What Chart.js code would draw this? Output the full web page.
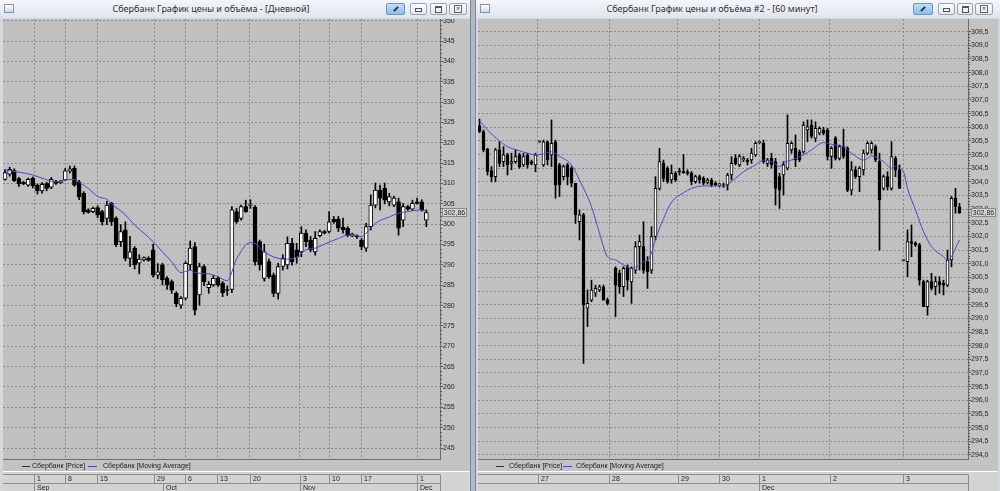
<!DOCTYPE html>
<html>
<head>
<meta charset="utf-8">
<title>Сбербанк</title>
<script src="https://cdn.jsdelivr.net/npm/chart.js@4.4.1/dist/chart.umd.min.js"></script>
<style>
html,body{margin:0;padding:0;}
body{width:1000px;height:491px;overflow:hidden;position:relative;background:#aeb9c7;font-family:"Noto Sans","DejaVu Sans",sans-serif;}
.win{position:absolute;top:0;height:491px;background:#d3d8de;box-sizing:border-box;}
.tb{position:absolute;left:0;top:0;right:0;height:18px;background:linear-gradient(#f3f6fa,#dfe5ed);}
.ttl{position:absolute;top:0;left:0;height:18px;line-height:18px;font-size:9px;color:#303030;text-align:center;white-space:nowrap;}
.ico{position:absolute;left:4px;top:4px;width:8px;height:7px;border:1px solid #7f93ad;background:linear-gradient(#fff,#c9d9ee);}
.btn{position:absolute;top:3px;height:10px;border:1px solid #98a3b3;border-radius:2px;background:linear-gradient(#fdfdfe,#e2e7ee);}
.btn.pin{background:linear-gradient(#c4ddf8,#8fbbea);border-color:#6b93c4;}
.g{position:absolute;}
canvas{position:absolute;}
</style>
</head>
<body>
<div class="win" id="wl" style="left:0;width:471px;border-right:1px solid #7d8794;">
  <div class="tb">
    <div class="ico"></div>
    <div class="ttl" style="width:422px;">Сбербанк График цены и объёма - [Дневной]</div>
    <div class="btn pin" style="left:386px;width:17px;"><div class="g" style="left:6px;top:4px;width:6px;height:2px;background:#203050;transform:rotate(-45deg);"></div></div>
    <div class="btn" style="left:410px;width:15px;"><div class="g" style="left:4px;top:4px;width:5px;height:2px;border:1px solid #555;"></div></div>
    <div class="btn" style="left:430px;width:15px;"><div class="g" style="left:4px;top:2px;width:5px;height:4px;border:1px solid #555;border-top-width:2px;"></div></div>
    <div class="btn" style="left:449px;width:16px;"><div class="g" style="left:4px;top:1px;width:6px;height:6px;border:1px solid #666;font-size:7px;line-height:6px;text-align:center;color:#444;">×</div></div>
  </div>
  <canvas id="cl" width="467" height="472" style="left:3px;top:19px;"></canvas>
</div>
<div class="win" id="wr" style="left:475px;width:525px;border-left:1px solid #7d8794;">
  <div class="tb">
    <div class="ico"></div>
    <div class="ttl" style="width:472px;">Сбербанк График цены и объёма #2 - [60 минут]</div>
    <div class="btn pin" style="left:437px;width:18px;"><div class="g" style="left:6px;top:4px;width:6px;height:2px;background:#203050;transform:rotate(-45deg);"></div></div>
    <div class="btn" style="left:462px;width:15px;"><div class="g" style="left:4px;top:4px;width:5px;height:2px;border:1px solid #555;"></div></div>
    <div class="btn" style="left:481px;width:14px;"><div class="g" style="left:4px;top:2px;width:5px;height:4px;border:1px solid #555;border-top-width:2px;"></div></div>
    <div class="btn" style="left:499px;width:16px;"><div class="g" style="left:4px;top:1px;width:6px;height:6px;border:1px solid #666;font-size:7px;line-height:6px;text-align:center;color:#444;">×</div></div>
  </div>
  <canvas id="cr" width="520" height="472" style="left:2px;top:19px;"></canvas>
</div>
<script>
// ===== Left panel: daily candles (Aug 25 – Dec 3) =====
const leftOpen = [311.0,312.3,313.2,311.2,310.3,309.6,311.3,309.6,308.2,310.0,
309.1,310.5,310.2,310.9,313.0,313.7,310.4,307.6,303.5,303.1,
304.1,303.1,301.4,305.1,301.5,295.7,298.6,291.6,294.1,290.4,
291.2,291.7,293.7,287.5,290.0,286.7,285.9,283.0,280.1,281.8,
290.0,294.5,282.6,289.6,284.4,285.1,286.7,285.5,283.9,284.0,
303.1,301.4,304.3,304.6,304.2,295.7,286.7,290.8,287.5,283.0,
289.6,290.0,295.3,293.7,293.2,297.8,296.1,293.2,297.2,298.2,
298.2,301.2,301.2,299.2,299.0,297.1,297.1,296.1,294.1,299.4,
304.7,308.4,308.8,305.5,304.7,305.5,301.0,304.3,303.7,305.5,
305.5,301.0];
const leftHigh = [313.4,314.0,313.6,311.5,310.5,311.3,311.6,309.9,310.2,310.3,
311.5,310.8,310.8,313.7,314.3,314.3,310.8,308.0,303.8,304.2,
304.5,303.4,305.6,305.4,301.8,299.9,300.6,297.0,294.5,292.5,
292.0,292.0,295.1,290.3,290.4,287.1,286.3,283.4,282.2,290.8,
295.9,295.5,290.4,290.0,285.9,287.4,287.1,285.9,284.8,304.3,
303.9,304.7,305.9,306.0,304.6,296.1,295.1,291.4,288.0,290.4,
292.5,296.9,296.5,295.3,299.4,298.6,297.0,298.2,298.6,298.5,
303.1,301.9,301.9,301.5,299.4,297.8,297.4,296.5,300.2,307.2,
310.1,309.6,310.1,307.6,306.9,306.4,305.1,304.6,305.9,306.4,
306.0,303.5];
const leftLow = [310.8,311.8,310.5,309.3,309.7,309.3,308.9,307.4,307.6,308.2,
308.7,309.8,310.0,310.7,312.6,309.3,306.0,302.5,302.7,302.8,
301.6,299.8,299.9,299.7,294.5,294.5,291.0,289.6,289.0,287.8,
290.9,290.9,287.0,286.6,285.1,284.0,283.0,279.7,279.3,281.4,
288.8,277.7,280.1,284.9,283.0,284.7,284.7,282.2,282.5,283.2,
300.2,301.0,302.9,303.9,289.9,288.7,286.0,286.7,282.2,281.6,
288.7,289.0,289.9,290.4,292.0,294.5,293.2,292.4,296.9,297.6,
297.8,300.2,298.2,297.8,296.9,296.9,296.5,293.7,293.3,298.6,
304.0,303.5,305.0,304.5,304.3,297.3,299.4,303.4,303.4,304.9,
303.2,299.4];
const leftClose = [312.7,313.5,310.7,309.9,309.9,311.0,309.4,308.2,309.8,308.8,
311.0,310.0,310.6,313.1,313.6,309.6,306.7,303.1,302.9,303.9,
302.3,300.6,304.7,300.6,294.9,298.2,291.6,293.2,290.0,291.4,
291.8,291.1,287.5,288.3,286.3,285.1,283.8,280.4,281.8,290.4,
294.1,278.9,289.6,285.9,285.2,286.7,285.1,283.2,283.7,303.5,
300.6,304.3,303.1,304.8,290.8,290.0,293.2,287.1,283.0,289.6,
291.6,295.3,290.8,291.9,297.8,295.7,293.7,296.5,298.2,297.8,
300.6,300.6,299.0,298.6,297.3,297.6,296.9,294.5,299.4,304.7,
308.4,306.4,305.9,306.8,306.4,299.0,304.3,303.7,305.1,305.1,
303.5,302.86];
// moving average, read at sampled candles
const leftMAIdx = [0,6,9,11,13,15,16,18,20,22,23,26,28,30,32,34,36,38,40,41,44,46,48,50,53,54,56,59,61,63,65,67,69,72,74,76,77,78,80,83,85,87,90,91];
const leftMAVal = [313.3,312.1,310.9,310.4,310.9,311.0,310.3,308.8,306.8,306.1,305.0,302.3,299.8,297.8,295.7,293.2,290.8,288.1,288.7,288.1,287.8,287.1,286.1,291.4,295.5,295.3,293.2,291.6,291.4,291.9,293.7,294.1,295.1,296.5,297.3,297.2,296.9,297.8,300.2,301.8,302.7,303.1,303.5,303.1];
const leftDayPos = [6.3,13.0,19.9,32.2,38.9,45.8,52.9,63.7,70.0,76.9,89.0];
const leftDayLabels = ['1','8','15','29','6','13','20','3','10','17','1'];
const leftMonthPos = [6.3,34.2,63.7,89.0];
const leftMonthLabels = ['Sep','Oct','Nov','Dec'];
const leftYTicks = [245,250,255,260,265,270,275,280,285,290,295,300,305,310,315,320,325,330,335,340,345,350];

// ===== Right panel: 60-minute candles (Nov 26 – Dec 3) =====
const rightOpen = [306.05,305.84,305.2,304.41,304.19,305.17,304.74,304.99,304.68,304.74,
304.99,304.62,304.99,304.74,304.62,305.47,304.62,305.47,304.99,305.47,
304.62,304.19,304.62,304.5,303.95,302.54,302.79,299.37,299.67,299.92,
300.04,300.16,299.67,null,300.83,300.65,300.16,300.89,300.34,300.77,
301.63,301.63,301.08,300.77,302.0,303.76,304.68,304.5,304.07,304.31,
304.38,304.38,304.37,304.31,304.01,304.19,304.13,303.98,304.07,303.95,
303.89,303.89,303.89,304.25,304.86,304.62,304.8,304.8,304.8,304.99,
305.44,305.41,304.68,304.86,304.74,304.19,304.25,304.5,305.17,305.23,
305.1,305.1,305.9,306.08,305.6,305.78,305.9,305.9,304.93,305.6,
304.86,305.29,305.23,303.7,304.44,304.19,304.44,305.05,305.17,305.29,
304.74,303.76,304.19,303.76,304.86,304.44,301.12,301.08,301.81,301.75,
301.69,300.35,299.43,300.35,300.16,300.35,300.28,300.22,301.14,303.4,
303.09];
const rightHigh = [306.3,305.9,305.23,304.56,305.23,305.47,305.29,305.05,305.05,305.17,
305.05,305.05,305.05,304.8,305.05,305.5,305.53,305.5,306.27,305.53,
304.68,304.62,304.68,304.56,303.95,302.97,302.85,300.04,300.4,300.22,
300.22,300.22,299.74,null,300.89,300.77,300.89,300.96,300.89,301.81,
302.05,302.54,301.26,302.36,304.19,305.23,304.8,304.56,304.62,304.37,
304.5,305.0,304.44,304.38,304.25,304.25,304.19,304.13,304.13,304.01,
303.95,303.95,304.31,304.92,305.0,305.0,304.93,304.86,305.23,305.47,
305.5,305.53,304.86,305.05,304.86,304.31,304.74,306.45,305.47,305.72,
305.17,306.2,306.27,306.27,306.2,306.02,306.0,305.96,305.29,305.66,
305.35,305.93,305.29,304.74,304.56,304.56,305.17,305.47,305.47,305.35,
305.05,304.25,304.37,305.47,304.93,304.62,301.14,302.24,302.42,301.81,
301.75,300.4,300.4,300.65,300.53,300.53,300.4,301.5,303.46,303.76,
303.21];
const rightLow = [305.8,305.1,304.25,304.0,304.0,304.56,304.56,304.25,304.44,304.68,
304.5,304.56,304.5,304.62,304.37,305.44,304.56,304.62,304.56,303.4,
303.46,304.07,303.89,303.82,302.48,301.87,297.35,298.7,299.61,299.8,
299.98,299.67,299.49,null,299.06,299.92,299.8,300.04,299.55,300.65,
300.77,300.65,300.1,300.65,301.87,303.7,304.01,303.95,303.95,304.01,
304.25,304.31,304.25,303.89,303.95,303.95,303.89,303.92,303.82,303.85,
303.82,303.8,303.7,304.07,304.62,304.56,304.74,304.62,304.68,304.93,
305.4,304.68,304.56,304.5,303.15,303.03,303.52,304.44,305.05,304.56,
304.74,305.05,305.47,305.6,305.47,305.72,305.72,304.8,304.5,304.8,
304.8,304.86,303.64,303.52,304.13,303.64,304.25,304.99,305.05,304.74,
301.5,303.7,303.7,303.7,304.19,303.76,301.1,300.53,301.26,301.63,
300.22,299.43,299.12,300.04,299.86,299.92,299.86,300.16,300.89,302.85,
302.85];
const rightClose = [305.85,305.17,304.38,304.19,305.17,304.68,304.99,304.62,304.74,304.93,
304.56,304.93,304.62,304.68,304.99,305.47,305.47,304.8,305.41,303.89,
303.89,304.56,304.19,303.95,302.79,302.79,299.49,299.55,300.04,300.1,
300.16,299.67,299.55,null,300.22,300.16,300.83,300.4,300.83,301.63,
301.81,300.77,300.71,302.0,303.76,304.74,304.13,304.01,304.31,304.07,
304.37,304.34,304.31,304.01,304.19,304.07,303.95,304.07,303.89,303.89,
303.89,303.85,304.25,304.68,304.68,304.93,304.86,304.74,305.05,305.41,
305.44,304.74,304.8,304.62,303.76,303.7,304.62,305.41,305.41,304.8,
304.8,306.08,306.02,305.66,305.96,305.96,305.78,304.93,305.23,304.86,
305.29,304.93,303.7,304.44,304.19,304.5,305.05,305.41,305.41,304.8,
303.34,304.19,303.82,304.93,304.44,303.76,301.12,301.81,301.75,301.69,
300.4,299.43,300.35,300.1,300.35,300.22,300.22,301.14,303.4,303.09,
302.86];
const rightMAIdx = [0,2,5,7,10,12,14,16,18,20,21,23,25,28,30,32,34,36,38,40,41,42,43,44,46,48,51,53,56,58,61,62,64,66,69,71,73,75,76,78,81,83,86,87,89,91,93,96,97,98,101,103,104,106,107,109,111,113,116,117,118,119,120];
const rightMAVal = [306.24,305.9,305.5,305.29,305.14,305.05,304.99,305.02,305.1,304.93,304.86,304.62,304.07,303.09,302.12,301.26,301.14,300.96,300.83,300.96,301.08,301.12,301.4,301.9,302.65,303.25,303.6,303.76,303.85,303.85,303.87,303.9,304.13,304.37,304.62,304.8,304.74,304.56,304.7,304.8,304.99,305.17,305.44,305.41,305.35,305.29,305.05,304.8,304.86,304.95,304.74,304.5,304.56,304.37,303.76,302.97,302.18,301.63,301.26,301.14,301.26,301.57,301.87];
const rightDayPos = [14.55,32.4,49.6,59.9,69.9,87.6,105.9];
const rightDayLabels = ['27','28','29','30','1','2','3'];
const rightMonthPos = [69.9];
const rightMonthLabels = ['Dec'];
const rightYTicks = [294.0,294.5,295.0,295.5,296.0,296.5,297.0,297.5,298.0,298.5,299.0,299.5,300.0,300.5,301.0,301.5,302.0,302.5,303.0,303.5,304.0,304.5,305.0,305.5,306.0,306.5,307.0,307.5,308.0,308.5,309.0,309.5];

const legendTexts = ['Сбербанк [Price]', 'Сбербанк [Moving Average]'];
const LBL_FONT = '7px "Liberation Sans", Arial, sans-serif';
const MA_COLOR = '#4848c8';
const GRID_COLOR = '#8a8a8a';

const decoPlugin = {
  id: 'deco',
  beforeDraw(chart, args, o) {
    const {ctx, chartArea: a, width, height} = chart;
    ctx.save();
    ctx.fillStyle = o.bg; ctx.fillRect(0, 0, width, height);
    ctx.fillStyle = o.plotBg; ctx.fillRect(a.left, a.top, a.right - a.left, a.bottom - a.top);
    ctx.fillStyle = o.stripBg; ctx.fillRect(0, a.bottom + 13, width, height - a.bottom - 13);
    ctx.fillStyle = '#ffffff'; ctx.fillRect(0, a.bottom + 12, width, 1);
    ctx.restore();
  },
  afterDraw(chart, args, o) {
    const {ctx, chartArea: a, scales: {x, y}} = chart;
    const H = chart.height;
    ctx.save();
    // minor ticks on price axis
    ctx.strokeStyle = '#5a5a5a'; ctx.lineWidth = 1; ctx.beginPath();
    const t = o.yTicks;
    for (let k = 0; k < t.length - 1; k++) {
      const st = (t[k + 1] - t[k]) / 5;
      for (let m = 1; m < 5; m++) {
        const py = Math.round(y.getPixelForValue(t[k] + m * st)) + 0.5;
        ctx.moveTo(a.right, py); ctx.lineTo(a.right + 2, py);
      }
    }
    ctx.stroke();
    // legend
    const ly = a.bottom + 7.5;
    ctx.font = LBL_FONT; ctx.textBaseline = 'middle'; ctx.textAlign = 'left';
    ctx.strokeStyle = '#333333'; ctx.beginPath(); ctx.moveTo(o.leg[0], ly); ctx.lineTo(o.leg[0] + 8, ly); ctx.stroke();
    ctx.fillStyle = '#222222'; ctx.fillText(legendTexts[0], o.leg[1], ly);
    ctx.strokeStyle = MA_COLOR; ctx.beginPath(); ctx.moveTo(o.leg[2], ly); ctx.lineTo(o.leg[2] + 9, ly); ctx.stroke();
    ctx.fillText(legendTexts[1], o.leg[3], ly);
    // date strip
    const r1t = a.bottom + 15.5, r1b = a.bottom + 24.5;
    ctx.strokeStyle = '#8e8e8e'; ctx.beginPath();
    ctx.moveTo(0, r1t); ctx.lineTo(a.right, r1t);
    ctx.moveTo(0, r1b); ctx.lineTo(a.right, r1b);
    ctx.moveTo(a.right + 0.5, r1t); ctx.lineTo(a.right + 0.5, H);
    o.dayPos.forEach(p => { const px = Math.round(x.getPixelForValue(p)) + 0.5; ctx.moveTo(px, r1t); ctx.lineTo(px, r1b); });
    o.monthPos.forEach(p => { const px = Math.round(x.getPixelForValue(p)) + 0.5; ctx.moveTo(px, r1b); ctx.lineTo(px, H); });
    ctx.stroke();
    ctx.fillStyle = '#222222';
    o.dayPos.forEach((p, k) => ctx.fillText(o.dayLabels[k], Math.round(x.getPixelForValue(p)) + 3, (r1t + r1b) / 2 + 0.5));
    o.monthPos.forEach((p, k) => ctx.fillText(o.monthLabels[k], Math.round(x.getPixelForValue(p)) + 3, (r1b + H) / 2 + 0.5));
    // last price box
    const py = y.getPixelForValue(o.last);
    const txt = o.last.toFixed(2).replace('.', ',');
    const bx = a.right + o.boxDx, bw = 25, bh = 9, by = Math.round(py - bh / 2);
    ctx.fillStyle = '#d4d4d4'; ctx.fillRect(bx, by, bw, bh);
    ctx.strokeStyle = '#8a8a8a'; ctx.strokeRect(bx + 0.5, by + 0.5, bw - 1, bh - 1);
    ctx.fillStyle = '#222222'; ctx.textAlign = 'center'; ctx.fillText(txt, bx + bw / 2, by + bh / 2 + 0.5);
    ctx.restore();
  }
};

function makeChart(id, p) {
  const bodies = [], wicks = [];
  for (let i = 0; i < p.open.length; i++) {
    if (p.open[i] == null) continue;
    bodies.push({x: i, y: [p.open[i], p.close[i]]});
    wicks.push({x: i, y: [p.low[i], p.high[i]]});
  }
  const ma = p.maIdx.map((v, k) => ({x: v, y: p.maVal[k]}));
  const last = p.close[p.close.length - 1];
  return new Chart(document.getElementById(id), {
    type: 'bar',
    data: {
      datasets: [
        {type: 'line', label: 'ma', data: ma, borderColor: MA_COLOR, borderWidth: 1, pointRadius: 0, cubicInterpolationMode: 'monotone', order: 1},
        {type: 'bar', label: 'body', data: bodies, grouped: false, barThickness: p.bodyW, minBarLength: 1,
         backgroundColor: c => (c.raw && c.raw.y[1] >= c.raw.y[0]) ? '#ffffff' : '#000000',
         borderColor: '#000000', borderWidth: 1, borderSkipped: false, order: 2},
        {type: 'bar', label: 'wick', data: wicks, grouped: false, barThickness: 1, backgroundColor: '#000000', borderWidth: 0, order: 3}
      ]
    },
    options: {
      responsive: false, animation: false, devicePixelRatio: 1,
      layout: {padding: {left: 0, right: 0, top: 0, bottom: 32}},
      events: [],
      plugins: {
        legend: {display: false}, tooltip: {enabled: false},
        deco: {bg: '#c3c3c3', plotBg: '#c0c0c0', stripBg: '#d3d3d3', yTicks: p.yTicks, leg: p.leg,
               dayPos: p.dayPos, dayLabels: p.dayLabels, monthPos: p.monthPos, monthLabels: p.monthLabels,
               last: last, boxDx: p.boxDx}
      },
      scales: {
        x: {type: 'linear', min: p.xMin, max: p.xMax, offset: false, position: 'bottom',
            grid: {display: true, offset: false, color: GRID_COLOR, drawTicks: false, lineWidth: 1},
            border: {display: true, color: '#6e6e6e', dash: [2, 2]},
            ticks: {display: false},
            afterBuildTicks: ax => { ax.ticks = p.dayPos.map(v => ({value: v})); },
            afterFit: ax => { ax.height = 0; ax.paddingLeft = 0; ax.paddingRight = 0; }},
        y: {type: 'linear', position: 'right', min: p.yMin, max: p.yMax,
            grid: {color: GRID_COLOR, drawTicks: true, tickLength: 3, tickColor: '#5a5a5a', lineWidth: 1},
            border: {display: true, color: '#6e6e6e', dash: [2, 2]},
            ticks: {font: {family: 'Liberation Sans', size: 7}, color: '#262626', padding: 0, autoSkip: false,
                    callback: v => p.fmt(v)},
            afterBuildTicks: ax => { ax.ticks = p.yTicks.map(v => ({value: v})); },
            afterFit: ax => { ax.width = p.axisW; ax.paddingTop = 0; ax.paddingBottom = 0; }}
      }
    },
    plugins: [decoPlugin]
  });
}

makeChart('cl', {
  open: leftOpen, high: leftHigh, low: leftLow, close: leftClose,
  maIdx: leftMAIdx, maVal: leftMAVal, bodyW: 4,
  xMin: -0.43, xMax: 93.95, yMin: 242.3, yMax: 350.42, yTicks: leftYTicks, axisW: 30,
  fmt: v => String(v), leg: [19, 29, 85, 100],
  dayPos: leftDayPos, dayLabels: leftDayLabels, monthPos: leftMonthPos, monthLabels: leftMonthLabels, boxDx: 2
});
makeChart('cr', {
  open: rightOpen, high: rightHigh, low: rightLow, close: rightClose,
  maIdx: rightMAIdx, maVal: rightMAVal, bodyW: 3,
  xMin: -0.375, xMax: 122.125, yMin: 293.85, yMax: 309.965, yTicks: rightYTicks, axisW: 30,
  fmt: v => v.toFixed(1).replace('.', ','), leg: [18, 31, 85, 98],
  dayPos: rightDayPos, dayLabels: rightDayLabels, monthPos: rightMonthPos, monthLabels: rightMonthLabels, boxDx: 3
});
</script>
</body>
</html>
